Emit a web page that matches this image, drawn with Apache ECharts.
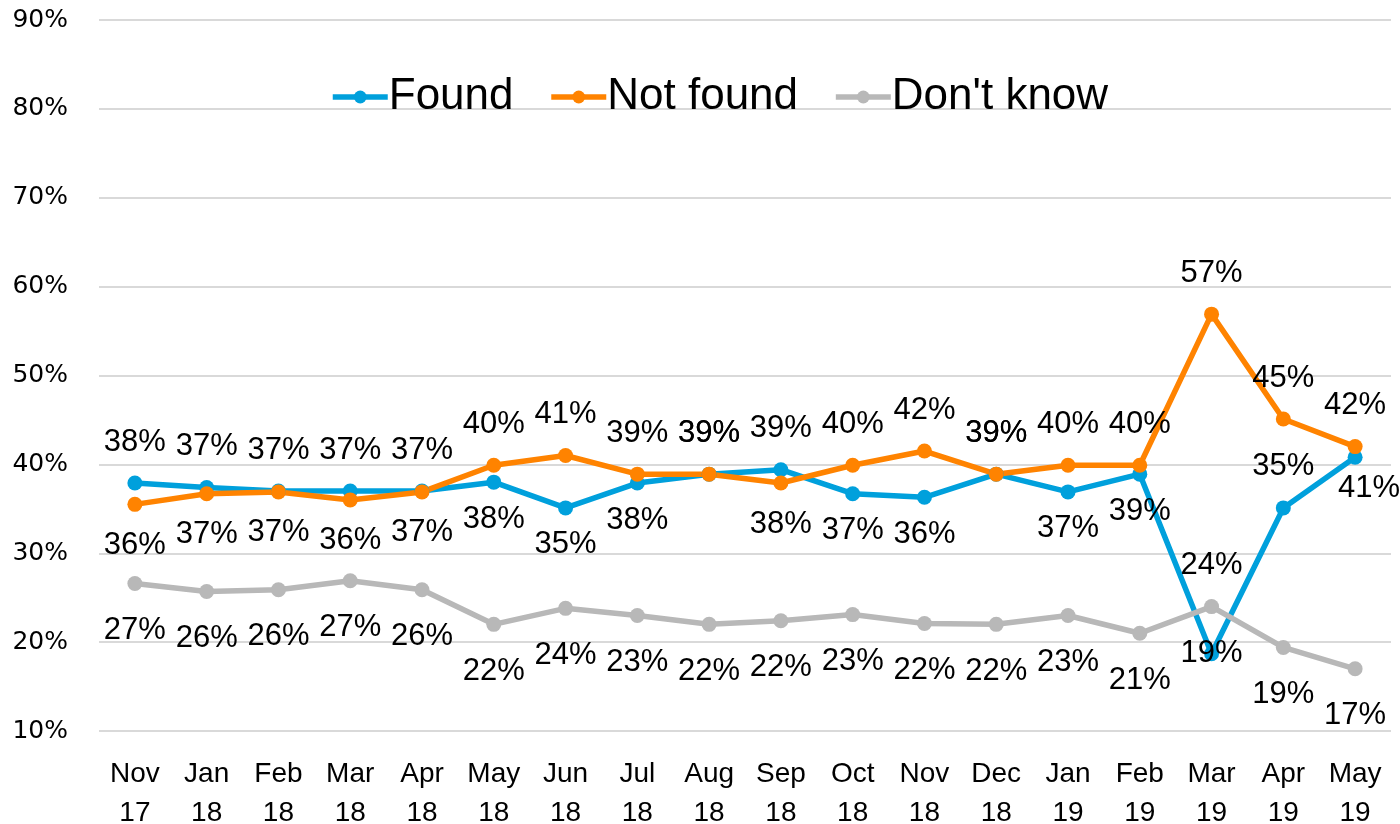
<!DOCTYPE html>
<html>
<head>
<meta charset="utf-8">
<script src="https://cdn.jsdelivr.net/npm/echarts@6/dist/echarts.min.js"></script>
<style>
  html, body { margin: 0; padding: 0; background: #fff; }
  #chart { width: 1400px; height: 824px; }
</style>
</head>
<body>
<div id="chart"></div>
<script>
// months
const months = ['Nov\n17', 'Jan\n18', 'Feb\n18', 'Mar\n18', 'Apr\n18', 'May\n18', 'Jun\n18', 'Jul\n18', 'Aug\n18',
  'Sep\n18', 'Oct\n18', 'Nov\n18', 'Dec\n18', 'Jan\n19', 'Feb\n19', 'Mar\n19', 'Apr\n19', 'May\n19'];

// values in percent
const found = [37.9, 37.4, 37.0, 37.0, 37.0, 38.0, 35.1, 37.9, 38.9, 39.4, 36.7, 36.3, 38.9, 36.9, 38.9, 18.7, 35.1, 40.8];
const notFound = [35.5, 36.7, 36.9, 36.0, 36.9, 39.9, 41.0, 38.9, 38.9, 37.9, 39.9, 41.5, 38.9, 39.9, 39.9, 56.9, 45.1, 42.0];
const dontKnow = [26.6, 25.7, 25.9, 26.9, 25.9, 22.0, 23.8, 23.0, 22.0, 22.4, 23.1, 22.1, 22.0, 23.0, 21.0, 24.0, 19.4, 17.0];

const yTicks = [10, 20, 30, 40, 50, 60, 70, 80, 90];

// where each data label sits (excel placed them by hand-ish)
const T = 'top', B = 'bottom';
const foundPos = [T, T, T, T, T, B, B, B, T, T, B, B, T, B, B, 'inside', T, B];
const notFoundPos = [B, B, B, B, B, T, T, T, T, B, T, T, T, T, T, T, T, T];
const dontKnowPos = [B, B, B, B, B, B, B, B, B, B, B, B, B, B, B, T, B, B];

const labelFont = 'Liberation Sans';
const topDist = 18;

function points(values, pos, bottomDist, extra) {
  return values.map((v, i) => {
    const label = { position: pos[i], distance: pos[i] === T ? topDist : bottomDist };
    if (extra && extra[i]) label.offset = extra[i];
    return { value: v, label: label };
  });
}

function lineSeries(name, color, data) {
  return {
    name: name,
    type: 'line',
    data: data,
    symbol: 'circle',
    symbolSize: 15,
    lineStyle: { width: 5.5, color: color },
    itemStyle: { color: color },
    label: {
      show: true,
      color: '#000',
      fontFamily: labelFont,
      fontSize: 31,
      formatter: p => Math.round(p.value) + '%'
    },
    emphasis: { disabled: true }
  };
}

const chart = echarts.init(document.getElementById('chart'));

chart.setOption({
  animation: false,
  grid: { left: 99, right: 9, top: 20, bottom: 93, outerBoundsMode: 'none' },
  legend: {
    top: 70,
    left: 325,
    itemWidth: 55,
    itemHeight: 16,
    itemGap: 35,
    lineStyle: { width: 5.5 },
    textStyle: { fontFamily: labelFont, fontSize: 44, color: '#000', padding: [0, 0, 0, -4] },
    data: ['Found', 'Not found', "Don't know"]
  },
  xAxis: {
    type: 'category',
    data: months,
    axisLine: { show: false },
    axisTick: { show: false },
    axisLabel: {
      color: '#000',
      fontFamily: labelFont,
      fontSize: 28,
      lineHeight: 39,
      margin: 24,
      interval: 0
    }
  },
  yAxis: {
    type: 'value',
    min: yTicks[0],
    max: yTicks[yTicks.length - 1],
    interval: 10,
    axisLabel: {
      color: '#000',
      fontFamily: 'DejaVu Sans',
      fontSize: 25,
      margin: 31,
      padding: [4, 0, 0, 0],
      formatter: v => v + '%'
    },
    splitLine: { lineStyle: { color: '#d9d9d9', width: 2 } }
  },
  series: [
    lineSeries('Found', '#00a0dc', points(found, foundPos, 14, { 17: [14, -6] })),
    lineSeries('Not found', '#ff8300', points(notFound, notFoundPos, 18)),
    lineSeries("Don't know", '#b8b8b8', points(dontKnow, dontKnowPos, 24))
  ]
});
</script>
</body>
</html>
